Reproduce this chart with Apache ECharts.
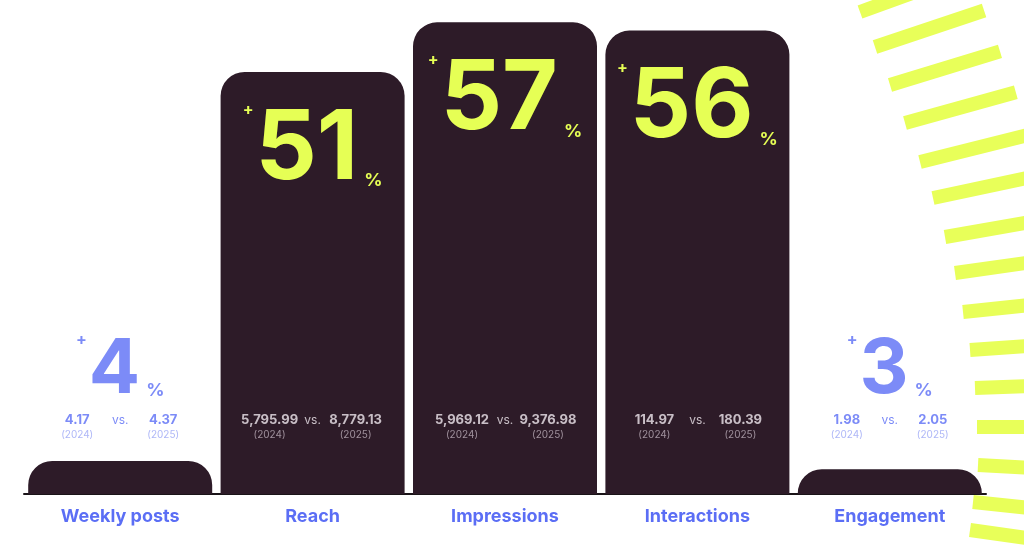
<!DOCTYPE html><html><head><meta charset="utf-8"><script src="https://cdn.jsdelivr.net/npm/echarts@6/dist/echarts.min.js"></script>
<style>html,body{margin:0;background:#fff}#c{width:1024px;height:552px}</style></head><body><div id="c"></div><script>
const categories=['Weekly posts','Reach','Impressions','Interactions','Engagement'];
const growthPct=[4,51,57,56,3];
const values2024=['4.17','5,795.99','5,969.12','114.97','1.98'];
const values2025=['4.37','8,779.13','9,376.98','180.39','2.05'];
const tallBar=[false,true,true,true,false];
// decorative rays: [x,y,angleDeg]
const rays=[[860,12,-20],[875,47,-18.5],[890,85,-17],[905,123,-15.5],[920,162,-14],[933,198,-12],[945,237,-10],[955,273,-8],[963,312,-6],[970,350,-4],[975,388,-2],[977,427,0],[978,465,3],[973,502,6],[970,530,8]];
const F='Inter, Lato, sans-serif';
const Y='#e6ff55',B='#5b6ef5',D='#2d1b28';
function big(color,n){return {p:{color,fontSize:16,fontWeight:'bold',fontFamily:F,verticalAlign:'top',padding:[0,2,0,0]},n:{color,fontSize:n,fontWeight:'bold',fontFamily:F,lineHeight:n},s:{color,fontSize:18,fontWeight:'bold',fontFamily:F,verticalAlign:'bottom',padding:[0,0,8,6]}};}
function cmp(v,yr,light){return {a:{color:v,fontSize:13,fontWeight:'bold',fontFamily:F,width:72,align:'center'},v:{color:v,fontSize:12,fontFamily:F,width:14,align:'center',opacity:0.8},b:{color:v,fontSize:13,fontWeight:'bold',fontFamily:F,width:72,align:'center'},y:{color:yr,fontSize:10,fontFamily:F,width:72,align:'center'},g:{width:14}};}
const barData=growthPct.map((v,i)=>({value:v,label:tallBar[i]?{show:true,position:'insideTop',distance:30,formatter:'{p|+}{n|'+v+'}{s|%}',rich:big(Y,96)}:{show:false}}));
const bigShort=growthPct.map((v,i)=>tallBar[i]?'-':15);
const cmpData=categories.map((c,i)=>({value:8,label:{show:true,position:'inside',formatter:'{a|'+values2024[i]+'}{v|vs.}{b|'+values2025[i]+'}\n{y|(2024)}{g|}{y|(2025)}',rich:tallBar[i]?cmp('#efe7ee','#bcaeb9'):cmp(B,'#9aa5f5'),lineHeight:15}}));
const g=rays.map(r=>({type:'rect',x:r[0],y:r[1],rotation:-r[2]*Math.PI/180,shape:{x:0,y:-7,width:115,height:14},style:{fill:'#e8ff59'},z:-10}));
const ch=echarts.init(document.getElementById('c'));
ch.setOption({animation:false,graphic:g,grid:{left:24,right:38,top:0,bottom:58},
xAxis:{type:'category',data:categories,axisTick:{show:false},axisLine:{lineStyle:{color:'#1a1418',width:2}},axisLabel:{color:B,fontSize:18,fontWeight:'bold',fontFamily:F,margin:14}},
yAxis:{type:'value',min:0,max:59.7,show:false,splitLine:{show:false}},
series:[{type:'bar',data:barData,barWidth:184,itemStyle:{color:D,borderRadius:[24,24,0,0]},z:2},
{type:'scatter',data:bigShort,symbolSize:1,itemStyle:{color:'transparent'},label:{show:true,position:'inside',formatter:p=>'{p|+}{n|'+growthPct[p.dataIndex]+'}{s|%}',rich:big(B,76)},z:5},
{type:'scatter',data:cmpData,symbolSize:1,itemStyle:{color:'transparent'},z:5}]});
</script></body></html>
